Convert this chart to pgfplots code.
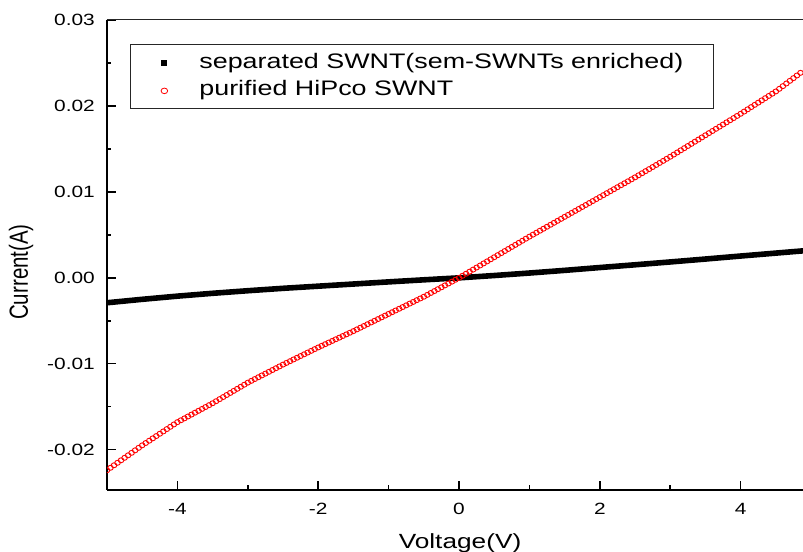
\documentclass[border=0pt]{standalone}
\usepackage{pgfplots}
\pgfplotsset{compat=1.18}
\usepackage{fontspec}
\usepackage{graphicx}
\setmainfont{Liberation Sans}[FakeStretch=1.28]
\newfontfamily\plainsans{Liberation Sans}

\begin{document}
\begin{tikzpicture}
\begin{axis}[
  at={(0,0)}, anchor=south west,
  width=696bp, height=470bp, scale only axis,
  xmin=-5, xmax=4.886, ymin=-0.0247, ymax=0.03002,
  axis x line*=bottom, axis y line*=left,
  axis line style={line width=2bp, black},
  scaled ticks=false,
  xtick={-4,-2,0,2,4}, xticklabels={-4,-2,0,2,4},
  minor xtick={-3,-1,1,3},
  ytick={-0.02,-0.01,0,0.01,0.02,0.03},
  yticklabels={-0.02,-0.01,0.00,0.01,0.02,0.03},
  minor ytick={-0.015,-0.005,0.005,0.015,0.025},
  tick align=inside,
  major tick length=9bp, minor tick length=4.5bp,
  tick style={black, line width=1.5bp},
  xticklabel style={anchor=base, yshift=-24bp, font=\fontsize{16.3bp}{19bp}\selectfont},
  yticklabel style={anchor=east, inner sep=0pt, xshift=-12bp, font=\fontsize{16.3bp}{19bp}\selectfont},
  xlabel={Voltage(V)},
  xlabel style={at={(axis description cs:0.5072,0)}, anchor=base, yshift=-58bp,
    font=\fontsize{20.5bp}{24bp}\selectfont},
  ylabel={\scalebox{1}[1.28]{\plainsans Current(A)}},
  ylabel style={at={(axis description cs:-0.1233,0.4638)}, anchor=center,
    font=\fontsize{20.5bp}{24bp}\selectfont},
  clip marker paths=true,
  legend style={at={(axis description cs:0.033,0.949)}, anchor=north west,
    draw=black!85, line width=0.8bp, inner xsep=14bp, inner ysep=5bp,
    font=\fontsize{21bp}{25bp}\selectfont,
    nodes={text height=15.5bp, text depth=4.5bp, inner ysep=3.5bp, inner xsep=4bp},
    column sep=11bp, row sep=0pt},
  legend cell align=left,
]
% separated (semiconducting-enriched) film
\addplot[black, line width=5.6bp, line join=round, mark=none,
  legend image code/.code={
    \path[draw=none, fill=none] (0bp,0bp) -- (40bp,0bp);
    \fill[black, draw=none] (17bp,-3.5bp) rectangle (23bp,2.5bp);
  }] coordinates {
(-5.0,-0.00290) (-4.5,-0.00250) (-4.0,-0.00213) (-3.5,-0.00180) (-3.0,-0.00150)
(-2.5,-0.00122) (-2.0,-0.00097) (-1.5,-0.00072) (-1.0,-0.00047) (-0.5,-0.00023)
(0.0,0.00000) (0.5,0.00027) (1.0,0.00056) (1.5,0.00087) (2.0,0.00120)
(2.5,0.00152) (3.0,0.00185) (3.5,0.00219) (4.0,0.00254) (4.5,0.00288) (5.0,0.00322)
};
\addlegendentry{separated SWNT(sem-SWNTs enriched)\hspace*{12bp}}

% purified HiPco film
\addplot[red, only marks, mark=o, mark size=2.5bp,
  mark options={line width=0.9bp, xscale=1.12},
  legend image code/.code={
    \path[draw=none, fill=none] (0bp,0bp) -- (40bp,0bp);
    \draw[red, line width=0.8bp, fill=none] (20bp,-1bp) ellipse [x radius=3.3bp, y radius=2.8bp];
  }] coordinates {
(-5.00,-0.02240) (-4.95,-0.02211) (-4.90,-0.02182) (-4.85,-0.02153) (-4.80,-0.02124)
(-4.75,-0.02095) (-4.70,-0.02066) (-4.65,-0.02037) (-4.60,-0.02008) (-4.55,-0.01979)
(-4.50,-0.01950) (-4.45,-0.01923) (-4.40,-0.01896) (-4.35,-0.01869) (-4.30,-0.01842)
(-4.25,-0.01815) (-4.20,-0.01788) (-4.15,-0.01761) (-4.10,-0.01734) (-4.05,-0.01707)
(-4.00,-0.01680) (-3.95,-0.01658) (-3.90,-0.01636) (-3.85,-0.01614) (-3.80,-0.01592)
(-3.75,-0.01570) (-3.70,-0.01548) (-3.65,-0.01526) (-3.60,-0.01504) (-3.55,-0.01482)
(-3.50,-0.01460) (-3.45,-0.01436) (-3.40,-0.01412) (-3.35,-0.01388) (-3.30,-0.01364)
(-3.25,-0.01340) (-3.20,-0.01316) (-3.15,-0.01292) (-3.10,-0.01268) (-3.05,-0.01244)
(-3.00,-0.01220) (-2.95,-0.01199) (-2.90,-0.01178) (-2.85,-0.01157) (-2.80,-0.01136)
(-2.75,-0.01115) (-2.70,-0.01094) (-2.65,-0.01073) (-2.60,-0.01052) (-2.55,-0.01031)
(-2.50,-0.01010) (-2.45,-0.00990) (-2.40,-0.00970) (-2.35,-0.00950) (-2.30,-0.00930)
(-2.25,-0.00910) (-2.20,-0.00890) (-2.15,-0.00870) (-2.10,-0.00850) (-2.05,-0.00830)
(-2.00,-0.00810) (-1.95,-0.00791) (-1.90,-0.00772) (-1.85,-0.00753) (-1.80,-0.00734)
(-1.75,-0.00715) (-1.70,-0.00696) (-1.65,-0.00677) (-1.60,-0.00658) (-1.55,-0.00639)
(-1.50,-0.00620) (-1.45,-0.00600) (-1.40,-0.00580) (-1.35,-0.00560) (-1.30,-0.00540)
(-1.25,-0.00520) (-1.20,-0.00500) (-1.15,-0.00480) (-1.10,-0.00460) (-1.05,-0.00440)
(-1.00,-0.00420) (-0.95,-0.00400) (-0.90,-0.00380) (-0.85,-0.00360) (-0.80,-0.00340)
(-0.75,-0.00320) (-0.70,-0.00300) (-0.65,-0.00280) (-0.60,-0.00260) (-0.55,-0.00240)
(-0.50,-0.00220) (-0.45,-0.00198) (-0.40,-0.00176) (-0.35,-0.00154) (-0.30,-0.00132)
(-0.25,-0.00110) (-0.20,-0.00088) (-0.15,-0.00066) (-0.10,-0.00044) (-0.05,-0.00022)
(0.00,0.00000) (0.05,0.00024) (0.10,0.00048) (0.15,0.00072) (0.20,0.00096)
(0.25,0.00120) (0.30,0.00144) (0.35,0.00168) (0.40,0.00192) (0.45,0.00216)
(0.50,0.00240) (0.55,0.00264) (0.60,0.00288) (0.65,0.00312) (0.70,0.00336)
(0.75,0.00360) (0.80,0.00384) (0.85,0.00408) (0.90,0.00432) (0.95,0.00456)
(1.00,0.00480) (1.05,0.00503) (1.10,0.00526) (1.15,0.00549) (1.20,0.00572)
(1.25,0.00595) (1.30,0.00618) (1.35,0.00641) (1.40,0.00664) (1.45,0.00687)
(1.50,0.00710) (1.55,0.00733) (1.60,0.00756) (1.65,0.00779) (1.70,0.00802)
(1.75,0.00825) (1.80,0.00848) (1.85,0.00871) (1.90,0.00894) (1.95,0.00917)
(2.00,0.00940) (2.05,0.00963) (2.10,0.00986) (2.15,0.01009) (2.20,0.01032)
(2.25,0.01055) (2.30,0.01078) (2.35,0.01101) (2.40,0.01124) (2.45,0.01147)
(2.50,0.01170) (2.55,0.01194) (2.60,0.01218) (2.65,0.01242) (2.70,0.01266)
(2.75,0.01290) (2.80,0.01314) (2.85,0.01338) (2.90,0.01362) (2.95,0.01386)
(3.00,0.01410) (3.05,0.01435) (3.10,0.01460) (3.15,0.01485) (3.20,0.01510)
(3.25,0.01535) (3.30,0.01560) (3.35,0.01585) (3.40,0.01610) (3.45,0.01635)
(3.50,0.01660) (3.55,0.01685) (3.60,0.01710) (3.65,0.01735) (3.70,0.01760)
(3.75,0.01785) (3.80,0.01810) (3.85,0.01835) (3.90,0.01860) (3.95,0.01885)
(4.00,0.01910) (4.05,0.01936) (4.10,0.01962) (4.15,0.01988) (4.20,0.02014)
(4.25,0.02040) (4.30,0.02066) (4.35,0.02092) (4.40,0.02118) (4.45,0.02144)
(4.50,0.02170) (4.55,0.02201) (4.60,0.02232) (4.65,0.02263) (4.70,0.02294)
(4.75,0.02325) (4.80,0.02356) (4.85,0.02387) (4.90,0.02418)
};
\addlegendentry{purified HiPco SWNT}

\draw[black!85, line width=1bp] (rel axis cs:0,1) -- (rel axis cs:1,1);
\end{axis}
\pgfresetboundingbox
\path[use as bounding box] (-107bp,-62bp) rectangle (696bp,490bp);
\end{tikzpicture}
\end{document}
